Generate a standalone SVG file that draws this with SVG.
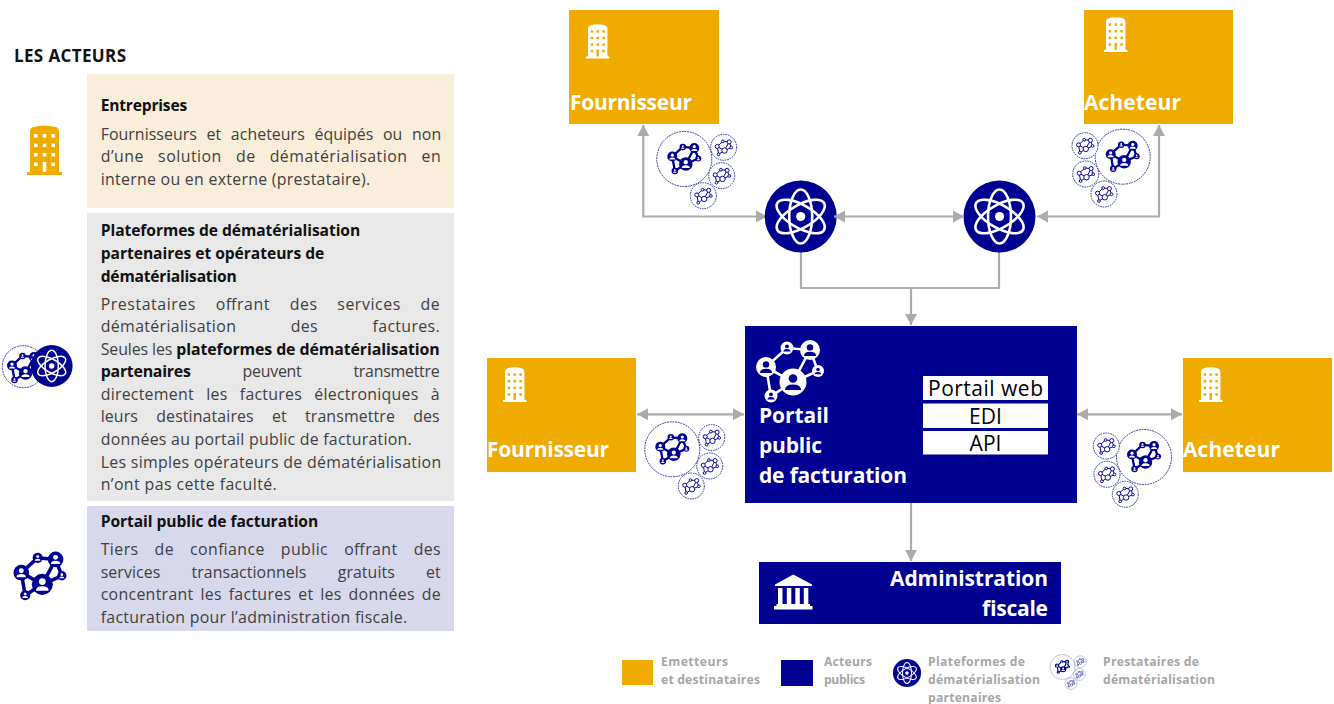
<svg xmlns="http://www.w3.org/2000/svg" width="1334" height="704" viewBox="0 0 1334 704">
<style>
text{font-family:"Open Sans","Noto Sans","Liberation Sans",sans-serif}
.b{font-size:15.9px;fill:#404040}
.b tspan{font-weight:700;fill:#111}
.t{font-size:15.6px;font-weight:700;fill:#111}
.w{font-size:21px;font-weight:700;fill:#fff}
.l{font-size:12.2px;font-weight:700;fill:#a6a6a6}
.o{fill:#efab00}
.n{fill:#000091}
.c{fill:none;stroke:#ababab;stroke-width:2.2}
.e{font-size:21px;fill:#000;text-anchor:middle}
</style>
<defs>
<marker id="ah" markerUnits="userSpaceOnUse" markerWidth="13" markerHeight="13" refX="12" refY="6.5" orient="auto-start-reverse"><path d="M1 0.5L12 6.5L1 12.5Z" fill="#ababab"/></marker>
<g id="bld"><path d="M3 47V7Q3 3 6 2Q17 -1 29 2Q32 3 32 7V47H35V50H0V47Z"/><g fill="var(--w)"><rect x="7" y="9" width="3.6" height="3.6"/><rect x="15.7" y="9" width="3.6" height="3.6"/><rect x="24.4" y="9" width="3.6" height="3.6"/><rect x="7" y="18.5" width="3.6" height="3.6"/><rect x="15.7" y="18.5" width="3.6" height="3.6"/><rect x="24.4" y="18.5" width="3.6" height="3.6"/><rect x="7" y="28" width="3.6" height="3.6"/><rect x="15.7" y="28" width="3.6" height="3.6"/><rect x="24.4" y="28" width="3.6" height="3.6"/><rect x="7" y="37.5" width="3.6" height="3.6"/><rect x="15.7" y="37" width="3.6" height="10"/><rect x="24.4" y="37.5" width="3.6" height="3.6"/></g></g>
<g id="pr"><circle cx="0" cy="-2.6" r="3.2"/><path d="M-6 6Q-6 1.8 0 1.8Q6 1.8 6 6Z"/></g>
<g id="net"><path stroke="currentColor" stroke-width="2.6" fill="none" d="M-24 -3L-3 -22L20 -20L3 12L-24 -3L-19 26L3 12L28 1L20 -20"/><g fill="currentColor"><circle cx="-24" cy="-3" r="10"/><circle cx="-3" cy="-22" r="6.5"/><circle cx="20" cy="-20" r="10"/><circle cx="28" cy="1" r="6"/><circle cx="3" cy="12" r="13.5"/><circle cx="-19" cy="26" r="6.5"/></g><use href="#pr" transform="translate(-24 -3)"/><use href="#pr" transform="translate(-3 -22) scale(.6)"/><use href="#pr" transform="translate(20 -20)"/><use href="#pr" transform="translate(28 1) scale(.55)"/><use href="#pr" transform="translate(3 12) scale(1.35)"/><use href="#pr" transform="translate(-19 26) scale(.6)"/></g>
<g id="netb"><path stroke="currentColor" stroke-width="4.5" fill="none" d="M-24 -3L-3 -22L20 -20L3 12L-24 -3L-19 26L3 12L28 1L20 -20"/><use href="#net"/></g>
<g id="sm"><circle r="13" fill="#fff" stroke="#2a2a9e" stroke-width="1" stroke-dasharray="1.6 .9"/><g transform="scale(.27)" color="#000091" fill="#fff"><path stroke="currentColor" stroke-width="3.6" fill="none" d="M-24 -3L-3 -22L20 -20L3 12L-24 -3L-19 26L3 12L28 1L20 -20"/><g fill="#fff" stroke="currentColor" stroke-width="3.6"><circle cx="-24" cy="-3" r="7.5"/><circle cx="-3" cy="-22" r="5"/><circle cx="20" cy="-20" r="7.5"/><circle cx="28" cy="1" r="5"/><circle cx="3" cy="12" r="10"/><circle cx="-19" cy="26" r="5"/></g></g></g>
<g id="big"><circle r="27.5" fill="#fff" stroke="#2a2a9e" stroke-width="1" stroke-dasharray="1.8 .9"/><use href="#netb" transform="translate(0 -1) scale(.5)" color="#000091" fill="#fff"/></g>
<g id="cl"><use href="#big"/><use href="#sm" x="39.4" y="-11.7"/><use href="#sm" x="37.4" y="16.7"/><use href="#sm" x="19" y="36.7"/></g>
<g id="cr"><use href="#big"/><use href="#sm" x="-37.7" y="-11"/><use href="#sm" x="-37" y="17.3"/><use href="#sm" x="-18.7" y="37.3"/></g>
<g id="atom"><circle r="36" fill="#000091"/><g fill="none" stroke="#fff" stroke-width="2.6"><ellipse rx="11.5" ry="27"/><ellipse rx="11.5" ry="27" transform="rotate(60)"/><ellipse rx="11.5" ry="27" transform="rotate(-60)"/></g><circle r="4.6" fill="#fff"/></g>
</defs>

<text x="14" y="62" font-size="17" font-weight="700" fill="#111" textLength="112">LES ACTEURS</text>

<g id="entreprises">
<rect x="87" y="74" width="367" height="134" fill="#f9eeda"/>
<use href="#bld" x="27" y="125" class="o" style="--w:#fff"/>
<text class="t" x="100.7" y="111" textLength="86.5">Entreprises</text>
<text class="b" x="100.7" y="139.5" textLength="340.5" word-spacing="5.5">Fournisseurs et acheteurs équipés ou non</text>
<text class="b" x="100.7" y="162.2" textLength="340" word-spacing="9.5">d’une solution de dématérialisation en</text>
<text class="b" x="100.7" y="184.8" textLength="269.5">interne ou en externe (prestataire).</text>
</g>

<g id="plateformes">
<rect x="87" y="213" width="367" height="288" fill="#e8e8e8"/>
<circle cx="23.3" cy="366.7" r="21" fill="#fff" stroke="#2a2a9e" stroke-width="1" stroke-dasharray="1.8 .9"/>
<use href="#netb" transform="translate(24 367) scale(.5)" color="#000091" fill="#fff"/>
<use href="#atom" transform="translate(51.7 366) scale(.58)"/>
<text class="t" x="100.7" y="236" textLength="259.5">Plateformes de dématérialisation</text>
<text class="t" x="100.7" y="259" textLength="223.5">partenaires et opérateurs de</text>
<text class="t" x="100.7" y="281.7" textLength="136">dématérialisation</text>
<text class="b" x="100.7" y="309.5" textLength="339" word-spacing="15">Prestataires offrant des services de</text>
<text class="b" x="100.7" y="332" textLength="339" word-spacing="50">dématérialisation des factures.</text>
<text class="b" x="100.7" y="354.6" textLength="339">Seules les <tspan>plateformes de dématérialisation</tspan></text>
<text class="b" x="100.7" y="377.2" textLength="339" word-spacing="48"><tspan>partenaires</tspan> peuvent transmettre</text>
<text class="b" x="100.7" y="399.8" textLength="339" word-spacing="8">directement les factures électroniques à</text>
<text class="b" x="100.7" y="422.4" textLength="339" word-spacing="14">leurs destinataires et transmettre des</text>
<text class="b" x="100.7" y="445" textLength="311">données au portail public de facturation.</text>
<text class="b" x="100.7" y="467.6" textLength="340.5">Les simples opérateurs de dématérialisation</text>
<text class="b" x="100.7" y="490.2" textLength="176">n’ont pas cette faculté.</text>
</g>

<g id="portail-desc">
<rect x="87" y="506" width="367" height="125" fill="#d8d8ec"/>
<use href="#netb" transform="translate(40 575) scale(.78)" color="#000091" fill="#fff"/>
<text class="t" x="100.7" y="526.5" textLength="217.5">Portail public de facturation</text>
<text class="b" x="100.7" y="555" textLength="340" word-spacing="11.5">Tiers de confiance public offrant des</text>
<text class="b" x="100.7" y="577.6" textLength="340" word-spacing="27">services transactionnels gratuits et</text>
<text class="b" x="100.7" y="600.2" textLength="340" word-spacing="2.5">concentrant les factures et les données de</text>
<text class="b" x="100.7" y="622.8" textLength="306.5">facturation pour l’administration fiscale.</text>
</g>

<g id="connectors" class="c">
<path d="M643.3 125V216.5H767" marker-start="url(#ah)" marker-end="url(#ah)"/>
<path d="M1037 216.5H1159V125" marker-start="url(#ah)" marker-end="url(#ah)"/>
<path d="M801 252V288H999V252"/>
<path d="M911 288V325" marker-end="url(#ah)"/>
<path d="M637 414.3H744" marker-start="url(#ah)" marker-end="url(#ah)"/>
<path d="M1077 414.3H1182" marker-start="url(#ah)" marker-end="url(#ah)"/>
<path d="M911 503V561" marker-end="url(#ah)"/>
</g>

<g id="fournisseur-haut">
<rect class="o" x="569" y="10" width="150" height="114"/>
<use href="#bld" transform="translate(586 24) scale(.67 .69)" fill="#fff" style="--w:#efab00"/>
<text class="w" x="570" y="110" textLength="122">Fournisseur</text>
</g>
<g id="acheteur-haut">
<rect class="o" x="1084" y="10" width="149" height="114"/>
<use href="#bld" transform="translate(1104 17) scale(.67 .7)" fill="#fff" style="--w:#efab00"/>
<text class="w" x="1084" y="110" textLength="97">Acheteur</text>
</g>
<g id="prestataires-1"><use href="#cl" x="684.3" y="159"/></g>
<g id="prestataires-2"><use href="#cr" x="1122.7" y="156.7"/></g>
<g id="plateforme-1"><use href="#atom" transform="translate(800.7 216.5)"/></g>
<g id="plateforme-2"><use href="#atom" transform="translate(999.5 216.5)"/></g>
<path class="c" d="M834 216.5H964" marker-start="url(#ah)" marker-end="url(#ah)"/>

<g id="fournisseur-bas">
<rect class="o" x="487" y="358" width="149" height="114"/>
<use href="#bld" transform="translate(503 367) scale(.67 .7)" fill="#fff" style="--w:#efab00"/>
<text class="w" x="487" y="457" textLength="122">Fournisseur</text>
</g>
<g id="acheteur-bas">
<rect class="o" x="1183" y="358" width="149" height="114"/>
<use href="#bld" transform="translate(1199 367) scale(.67 .7)" fill="#fff" style="--w:#efab00"/>
<text class="w" x="1183" y="457" textLength="97">Acheteur</text>
</g>
<g id="prestataires-3"><use href="#cl" x="672.3" y="449.3"/></g>
<g id="prestataires-4"><use href="#cr" x="1144" y="457"/></g>

<g id="portail">
<rect class="n" x="745" y="326" width="332" height="177"/>
<use href="#net" transform="translate(790 370)" color="#fff" fill="#000091"/>
<text class="w" x="759" y="423" textLength="70">Portail</text>
<text class="w" x="759" y="453" textLength="63">public</text>
<text class="w" x="759" y="482.7" textLength="148">de facturation</text>
<rect x="923" y="376" width="125" height="24" fill="#fff"/>
<rect x="923" y="403.5" width="125" height="24.5" fill="#fff"/>
<rect x="923" y="431" width="125" height="23.5" fill="#fff"/>
<text class="e" x="985.5" y="396" textLength="115">Portail web</text>
<text class="e" x="985.5" y="424">EDI</text>
<text class="e" x="985.5" y="451">API</text>
</g>

<g id="administration">
<rect class="n" x="759" y="562" width="302" height="62"/>
<path fill="#fff" d="M793.3 574.5L812 584.5V586H775V584.5ZM778 588H782.5V604H778ZM786.8 588H791.3V604H786.8ZM795.3 588H799.8V604H795.3ZM803.8 588H808.3V604H803.8ZM776.5 604H810V606H776.5ZM774 606H812.5V609.5H774Z"/>
<text class="w" x="1048" y="586" text-anchor="end" textLength="158">Administration</text>
<text class="w" x="1048" y="615.7" text-anchor="end" textLength="66">fiscale</text>
</g>

<g id="legende">
<rect class="o" x="622" y="660" width="31" height="25"/>
<text class="l" x="661" y="666" textLength="67">Emetteurs</text>
<text class="l" x="661" y="684" textLength="99">et destinataires</text>
<rect class="n" x="781" y="660" width="32" height="26"/>
<text class="l" x="824" y="666" textLength="48">Acteurs</text>
<text class="l" x="824" y="684" textLength="41">publics</text>
<use href="#atom" transform="translate(907 673) scale(.39)"/>
<text class="l" x="928" y="666" textLength="97">Plateformes de</text>
<text class="l" x="928" y="684" textLength="112">dématérialisation</text>
<text class="l" x="928" y="702" textLength="73">partenaires</text>
<use href="#cl" transform="translate(1062.5 667) scale(.45)"/>
<text class="l" x="1103" y="666" textLength="96">Prestataires de</text>
<text class="l" x="1103" y="684" textLength="112">dématérialisation</text>
</g>
</svg>
